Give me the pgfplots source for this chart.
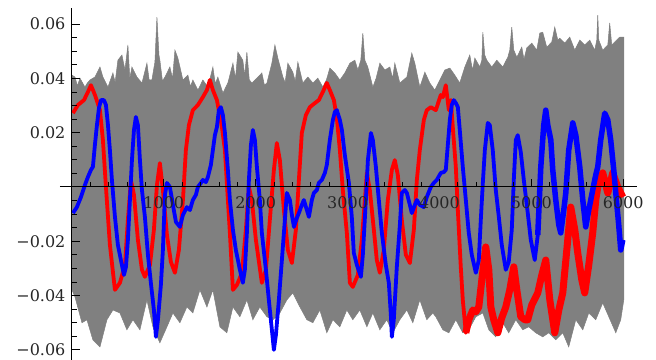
\documentclass[border=0pt]{standalone}
\usepackage{fontspec}
\setmainfont{DejaVu Serif}
\usepackage{pgfplots}
\pgfplotsset{compat=1.18}
\begin{document}
\begin{tikzpicture}
\begin{axis}[
  scale only axis, width=577pt, height=352pt,
  xmin=-130, xmax=6150, ymin=-0.06372, ymax=0.06593,
  axis lines=middle, axis line style={-, black, line width=1pt},
  axis on top=true,
  clip=false,
  xtick={1000,2000,3000,4000,5000,6000},
  xticklabels={1000,2000,3000,4000,5000,6000},
  minor xtick={200,400,600,800,1200,1400,1600,1800,2200,2400,2600,2800,3200,3400,3600,3800,4200,4400,4600,4800,5200,5400,5600,5800},
  ytick={-0.06,-0.04,-0.02,0.02,0.04,0.06},
  yticklabels={−0.06,−0.04,−0.02,0.02,0.04,0.06},
  minor ytick={-0.065,-0.055,-0.05,-0.045,-0.035,-0.03,-0.025,-0.015,-0.01,-0.005,0.005,0.01,0.015,0.025,0.03,0.035,0.045,0.05,0.055},
  tick align=inside,
  major tick length=8pt, minor tick length=5pt,
  tick style={black, line width=0.8pt},
  ticklabel style={font=\fontsize{16}{16}\selectfont, text=black!85},
  xticklabel style={anchor=north, yshift=-6pt},
  yticklabel style={anchor=east, xshift=-3pt},
  /pgf/number format/assume math mode=true,
]
\coordinate (ll) at (rel axis cs:0,0);
\coordinate (ur) at (rel axis cs:1,1);
% gray band: upper envelope then lower envelope (reversed)
\addplot[fill=gray, draw=gray, line width=0.5pt] coordinates {
(0,0.0412) (33,0.0405) (60,0.0372) (87,0.0401) (141,0.0368) (170,0.0384) (196,0.0394) (250,0.0405) (305,0.0442) (337,0.0405) (392,0.0368) (420,0.0395) (446,0.0420) (470,0.0385) (500,0.0467) (544,0.0486) (577,0.0431) (609,0.0523) (630,0.0400) (653,0.0442) (707,0.0405) (762,0.0383) (816,0.0456) (840,0.0395) (870,0.0394) (903,0.0460) (925,0.0626) (947,0.0486) (957,0.0467) (985,0.0390) (1012,0.0405) (1066,0.0442) (1095,0.0400) (1121,0.0504) (1153,0.0475) (1208,0.0394) (1262,0.0412) (1290,0.0370) (1316,0.0394) (1371,0.0357) (1425,0.0394) (1480,0.0368) (1534,0.0442) (1560,0.0380) (1588,0.0405) (1643,0.0346) (1697,0.0383) (1752,0.0456) (1780,0.0400) (1806,0.0497) (1860,0.0467) (1880,0.0410) (1904,0.0497) (1930,0.0395) (1958,0.0383) (2013,0.0401) (2067,0.0420) (2095,0.0375) (2122,0.0383) (2176,0.0456) (2209,0.0523) (2241,0.0475) (2296,0.0405) (2320,0.0385) (2350,0.0456) (2404,0.0423) (2430,0.0390) (2459,0.0460) (2513,0.0383) (2568,0.0405) (2622,0.0383) (2676,0.0401) (2731,0.0368) (2770,0.0395) (2807,0.0438) (2861,0.0420) (2916,0.0394) (2970,0.0420) (3025,0.0456) (3079,0.0467) (3112,0.0431) (3144,0.0467) (3166,0.0567) (3188,0.0467) (3220,0.0442) (3275,0.0368) (3310,0.0400) (3351,0.0456) (3406,0.0431) (3460,0.0442) (3490,0.0400) (3514,0.0456) (3569,0.0383) (3645,0.0405) (3699,0.0493) (3732,0.0456) (3786,0.0368) (3841,0.0423) (3895,0.0383) (3949,0.0357) (4004,0.0394) (4058,0.0431) (4113,0.0438) (4167,0.0412) (4221,0.0383) (4276,0.0442) (4330,0.0486) (4360,0.0430) (4385,0.0475) (4439,0.0442) (4461,0.0467) (4472,0.0570) (4493,0.0486) (4515,0.0467) (4570,0.0442) (4624,0.0467) (4689,0.0442) (4744,0.0478) (4765,0.0504) (4787,0.0589) (4809,0.0504) (4842,0.0478) (4896,0.0515) (4920,0.0470) (4950,0.0512) (5005,0.0530) (5059,0.0504) (5092,0.0567) (5124,0.0570) (5168,0.0515) (5222,0.0534) (5255,0.0589) (5288,0.0541) (5309,0.0548) (5364,0.0530) (5418,0.0552) (5473,0.0504) (5527,0.0541) (5581,0.0523) (5636,0.0541) (5690,0.0504) (5712,0.0541) (5723,0.0633) (5734,0.0541) (5777,0.0504) (5832,0.0523) (5853,0.0604) (5875,0.0523) (5908,0.0534) (5962,0.0552) (6006,0.0552)
(6006,-0.0416) (5973,-0.0489) (5919,-0.0537) (5843,-0.0478) (5777,-0.0427) (5701,-0.0489) (5625,-0.0464) (5560,-0.0526) (5484,-0.0489) (5407,-0.0589) (5342,-0.0537) (5266,-0.0563) (5190,-0.0537) (5124,-0.0552) (5048,-0.0537) (4972,-0.0515) (4907,-0.0526) (4831,-0.0489) (4754,-0.0537) (4689,-0.0500) (4613,-0.0552) (4537,-0.0526) (4472,-0.0464) (4396,-0.0478) (4319,-0.0526) (4254,-0.0537) (4178,-0.0489) (4102,-0.0537) (4037,-0.0526) (3960,-0.0478) (3928,-0.0464) (3862,-0.0489) (3786,-0.0416) (3710,-0.0500) (3645,-0.0453) (3569,-0.0489) (3492,-0.0537) (3427,-0.0489) (3351,-0.0526) (3275,-0.0464) (3210,-0.0515) (3133,-0.0453) (3057,-0.0489) (2992,-0.0453) (2916,-0.0515) (2840,-0.0489) (2774,-0.0537) (2698,-0.0453) (2622,-0.0500) (2557,-0.0489) (2481,-0.0442) (2404,-0.0390) (2339,-0.0416) (2263,-0.0464) (2187,-0.0489) (2122,-0.0478) (2045,-0.0442) (1969,-0.0489) (1904,-0.0416) (1828,-0.0478) (1752,-0.0442) (1686,-0.0537) (1610,-0.0515) (1534,-0.0379) (1469,-0.0442) (1393,-0.0379) (1316,-0.0464) (1251,-0.0442) (1175,-0.0500) (1099,-0.0464) (1034,-0.0515) (957,-0.0574) (881,-0.0515) (816,-0.0416) (740,-0.0526) (664,-0.0489) (598,-0.0526) (522,-0.0464) (446,-0.0453) (381,-0.0489) (305,-0.0589) (228,-0.0563) (163,-0.0489) (109,-0.0500) (33,-0.0405) (0,-0.0379)
} -- cycle;
% red series
\addplot[red, line width=3.8pt, line join=round] coordinates {
(11,0.0272) (65,0.0302) (131,0.0320) (174,0.0350) (207,0.0375) (250,0.0339) (305,0.0283) (337,0.0173) (370,0) (413,-0.0213) (468,-0.0379) (522,-0.0353) (577,-0.0287) (609,-0.0121) (642,0.0026) (675,-0.0029) (718,-0.0195) (762,-0.0305) (794,-0.0331) (849,-0.0287) (892,-0.0158) (925,0.0007) (957,0.0088) (990,-0.0011) (1034,-0.0177) (1077,-0.0276) (1121,-0.0316) (1164,-0.0232) (1208,-0.0048) (1240,0.0136) (1273,0.0228) (1316,0.0283) (1371,0.0302) (1425,0.0331) (1469,0.0357) (1501,0.0394) (1534,0.0357) (1578,0.0320) (1632,0.0221) (1665,0.0136) (1686,0.0015) (1719,-0.0169) (1752,-0.0379) (1795,-0.0361) (1850,-0.0316) (1893,-0.0158) (1926,0) (1958,-0.0048) (2002,-0.0195) (2067,-0.0353) (2111,-0.0305) (2154,-0.0121) (2198,0.0063) (2230,0.0162) (2263,0.0099) (2307,-0.0085) (2350,-0.0232) (2394,-0.0280) (2437,-0.0158) (2470,0.0026) (2502,0.0199) (2546,0.0265) (2589,0.0294) (2644,0.0309) (2687,0.0320) (2731,0.0350) (2774,0.0383) (2807,0.0357) (2851,0.0320) (2883,0.0254) (2916,0.0136) (2948,-0.0011) (2992,-0.0169) (3025,-0.0353) (3057,-0.0368) (3112,-0.0324) (3155,-0.0195) (3188,-0.0048) (3210,0.0052) (3242,-0.0011) (3286,-0.0158) (3318,-0.0269) (3351,-0.0316) (3394,-0.0232) (3438,-0.0048) (3482,0.0063) (3514,0.0099) (3547,0.0044) (3590,-0.0121) (3634,-0.0250) (3678,-0.0280) (3721,-0.0158) (3754,0.0026) (3786,0.0136) (3830,0.0247) (3862,0.0283) (3906,0.0294) (3960,0.0283) (4015,0.0339) (4037,0.0331) (4069,0.0375) (4102,0.0283) (4124,0.0320) (4145,0.0221) (4178,0.0074) (4200,-0.0085) (4232,-0.0294) (4254,-0.0416) (4287,-0.0537) (4319,-0.0489) (4363,-0.0453) (4396,-0.0460) (4428,-0.0442) (4461,-0.0342) (4504,-0.0221) (4537,-0.0305) (4559,-0.0442) (4591,-0.0489) (4635,-0.0537) (4678,-0.0482) (4722,-0.0442) (4765,-0.0379) (4809,-0.0294) (4842,-0.0379) (4885,-0.0478) (4929,-0.0489) (4961,-0.0489) (5005,-0.0434) (5070,-0.0390) (5114,-0.0324) (5157,-0.0269) (5201,-0.0416) (5255,-0.0537) (5299,-0.0453) (5342,-0.0390) (5386,-0.0232) (5429,-0.0074) (5473,-0.0158) (5505,-0.0243) (5549,-0.0342) (5581,-0.0390) (5625,-0.0287) (5668,-0.0169) (5701,-0.0048) (5723,0) (5777,0.0052) (5832,-0.0022) (5886,0.0052) (5940,0) (5995,-0.0037)
};
\addplot[red, line width=7pt, line join=round] coordinates {
(4287,-0.0537) (4319,-0.0489) (4363,-0.0453) (4396,-0.0460) (4428,-0.0442) (4461,-0.0342) (4504,-0.0221) (4537,-0.0305) (4559,-0.0442) (4591,-0.0489) (4635,-0.0537) (4678,-0.0482) (4722,-0.0442) (4765,-0.0379) (4809,-0.0294) (4842,-0.0379) (4885,-0.0478) (4929,-0.0489) (4961,-0.0489) (5005,-0.0434) (5070,-0.0390) (5114,-0.0324) (5157,-0.0269) (5201,-0.0416) (5255,-0.0537) (5299,-0.0453) (5342,-0.0390) (5386,-0.0232) (5429,-0.0074) (5473,-0.0158) (5505,-0.0243) (5549,-0.0342) (5581,-0.0390) (5625,-0.0287) (5668,-0.0169) (5701,-0.0048) (5723,0) (5777,0.0052) (5832,-0.0022) (5886,0.0052) (5940,0) (5995,-0.0037)
};
% blue series
\addplot[blue, line width=3.8pt, line join=round] coordinates {
(11,-0.0096) (54,-0.0074) (98,-0.0037) (141,0.0007) (174,0.0037) (207,0.0063) (228,0.0074) (250,0.0155) (272,0.0228) (294,0.0291) (316,0.0320) (348,0.0320) (370,0.0302) (392,0.0228) (413,0.0136) (435,0.0026) (468,-0.0110) (500,-0.0213) (533,-0.0269) (566,-0.0324) (588,-0.0294) (609,-0.0195) (631,-0.0048) (653,0.0099) (675,0.0210) (696,0.0258) (718,0.0228) (740,0.0099) (762,-0.0011) (794,-0.0110) (827,-0.0250) (859,-0.0353) (892,-0.0453) (914,-0.0552) (936,-0.0489) (968,-0.0361) (990,-0.0232) (1012,-0.0029) (1034,0.0015) (1066,0) (1099,-0.0066) (1132,-0.0129) (1175,-0.0147) (1208,-0.0103) (1251,-0.0074) (1284,-0.0085) (1316,-0.0048) (1349,-0.0029) (1371,0) (1404,0.0015) (1425,0.0026) (1458,0.0018) (1480,0.0037) (1512,0.0081) (1534,0.0136) (1556,0.0191) (1578,0.0221) (1599,0.0283) (1621,0.0294) (1643,0.0265) (1665,0.0199) (1697,0.0063) (1719,-0.0048) (1752,-0.0158) (1784,-0.0232) (1828,-0.0305) (1860,-0.0353) (1882,-0.0305) (1904,-0.0169) (1926,0.0026) (1948,0.0155) (1969,0.0210) (1991,0.0173) (2013,0.0074) (2045,-0.0048) (2067,-0.0169) (2111,-0.0305) (2143,-0.0416) (2176,-0.0526) (2198,-0.0600) (2220,-0.0545) (2252,-0.0416) (2285,-0.0269) (2307,-0.0169) (2339,-0.0022) (2372,-0.0048) (2394,-0.0103) (2416,-0.0147) (2448,-0.0114) (2470,-0.0096) (2502,-0.0066) (2524,-0.0048) (2557,-0.0085) (2579,-0.0110) (2611,-0.0048) (2633,-0.0022) (2666,-0.0011) (2687,0.0015) (2720,0.0026) (2753,0.0052) (2774,0.0081) (2807,0.0173) (2840,0.0247) (2861,0.0276) (2883,0.0283) (2916,0.0247) (2938,0.0210) (2970,0.0118) (3014,0.0015) (3046,-0.0110) (3068,-0.0243) (3101,-0.0287) (3145,-0.0331) (3166,-0.0250) (3199,-0.0048) (3221,0.0099) (3254,0.0199) (3275,0.0173) (3308,0.0074) (3340,-0.0048) (3373,-0.0169) (3416,-0.0287) (3449,-0.0353) (3471,-0.0471) (3482,-0.0552) (3503,-0.0489) (3536,-0.0294) (3569,-0.0140) (3590,-0.0022) (3623,-0.0011) (3645,-0.0022) (3678,-0.0066) (3699,-0.0096) (3732,-0.0066) (3754,-0.0048) (3786,-0.0066) (3830,-0.0074) (3862,-0.0037) (3906,0) (3939,0.0015) (3971,0.0026) (4015,0.0052) (4048,0.0055) (4069,0.0063) (4091,0.0155) (4113,0.0247) (4134,0.0302) (4156,0.0320) (4178,0.0309) (4200,0.0294) (4221,0.0210) (4254,0.0074) (4287,-0.0048) (4319,-0.0169) (4352,-0.0250) (4396,-0.0316) (4428,-0.0269) (4450,-0.0121) (4472,0.0015) (4494,0.0136) (4526,0.0236) (4548,0.0228) (4580,0.0136) (4613,-0.0011) (4646,-0.0110) (4678,-0.0213) (4722,-0.0305) (4754,-0.0276) (4787,-0.0158) (4809,0.0026) (4831,0.0173) (4852,0.0191) (4885,0.0129) (4918,0.0026) (4961,-0.0096) (4994,-0.0195) (5037,-0.0269) (5070,-0.0177) (5103,0.0074) (5135,0.0228) (5157,0.0283) (5179,0.0228) (5212,0.0173) (5233,0.0063) (5266,-0.0048) (5299,-0.0140) (5320,-0.0169) (5353,-0.0085) (5375,-0.0022) (5407,0.0136) (5451,0.0236) (5484,0.0191) (5527,0.0074) (5560,-0.0048) (5592,-0.0147) (5625,-0.0085) (5668,-0.0011) (5701,0.0044) (5723,0.0074) (5755,0.0173) (5799,0.0272) (5832,0.0247) (5864,0.0173) (5897,0.0063) (5919,-0.0022) (5951,-0.0140) (5973,-0.0232) (5995,-0.0195)
};
\addplot[blue, line width=5.5pt, line join=round] coordinates {
(5070,-0.0177) (5103,0.0074) (5135,0.0228) (5157,0.0283) (5179,0.0228) (5212,0.0173) (5233,0.0063) (5266,-0.0048) (5299,-0.0140) (5320,-0.0169) (5353,-0.0085) (5375,-0.0022) (5407,0.0136) (5451,0.0236) (5484,0.0191) (5527,0.0074) (5560,-0.0048) (5592,-0.0147) (5625,-0.0085) (5668,-0.0011) (5701,0.0044) (5723,0.0074) (5755,0.0173) (5799,0.0272) (5832,0.0247) (5864,0.0173) (5897,0.0063) (5919,-0.0022) (5951,-0.0140) (5973,-0.0232) (5995,-0.0195)
};
\end{axis}
\pgfresetboundingbox
\path[use as bounding box] ([xshift=-60pt]ll) rectangle ([xshift=19pt,yshift=8pt]ur);
\end{tikzpicture}
\end{document}
